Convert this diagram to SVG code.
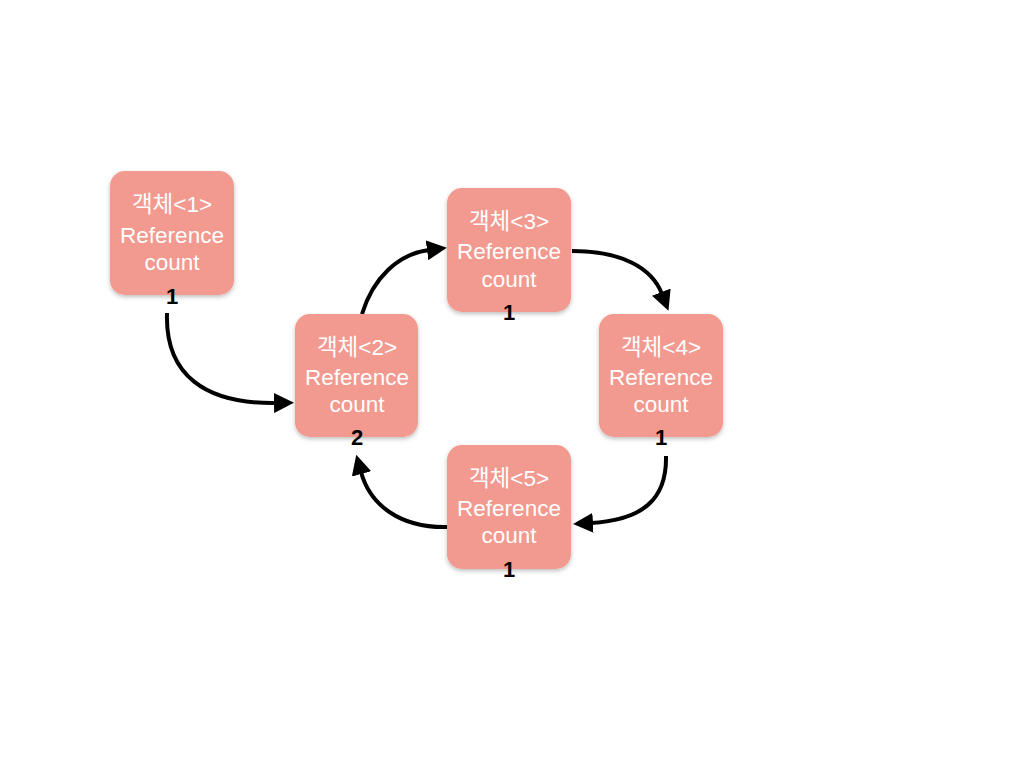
<svg xmlns="http://www.w3.org/2000/svg" width="1024" height="768" viewBox="0 0 1024 768">
<defs>
<style>
.box{fill:#F29A8F;}
.t{font-family:"Liberation Sans","Noto Sans CJK KR",sans-serif;font-size:22.5px;fill:#ffffff;text-anchor:middle;}
.n{font-family:"Liberation Sans",sans-serif;font-size:22px;font-weight:bold;fill:#000;text-anchor:middle;}
.c{fill:none;stroke:#000;stroke-width:4;}
</style>
<filter id="sh" x="-20%" y="-20%" width="140%" height="140%">
<feDropShadow dx="0" dy="2" stdDeviation="2" flood-color="#000" flood-opacity="0.25"/>
</filter>
<marker id="ah" markerUnits="userSpaceOnUse" markerWidth="22" markerHeight="20" viewBox="0 0 22 20" refX="2" refY="10" orient="auto">
<path d="M0,0 L20,10 L0,20 Z" fill="#000"/>
</marker>
</defs>
<rect width="1024" height="768" fill="#fff"/>
<g id="connectors">
<path class="c" d="M167,313 C165,375 205,404 276,403" marker-end="url(#ah)"/>
<path class="c" d="M362,314 C373,278 398,254 429,250" marker-end="url(#ah)"/>
<path class="c" d="M572,251 C622,251 652,268 662,294" marker-end="url(#ah)"/>
<path class="c" d="M666,456 C667,500 642,520 591,523" marker-end="url(#ah)"/>
<path class="c" d="M447,527 C400,528 370,505 361,472" marker-end="url(#ah)"/>
</g>
<g id="node1">
<rect class="box" x="110" y="171" width="124" height="124" rx="15" filter="url(#sh)"/>
<text class="t" x="172" y="212">객체&lt;1&gt;</text>
<text class="t" x="172" y="243">Reference</text>
<text class="t" x="172" y="270">count</text>
<text class="n" x="172" y="304">1</text>
</g>
<g id="node2">
<rect class="box" x="295" y="314" width="123" height="123" rx="15" filter="url(#sh)"/>
<text class="t" x="357" y="355">객체&lt;2&gt;</text>
<text class="t" x="357" y="385">Reference</text>
<text class="t" x="357" y="412">count</text>
<text class="n" x="357" y="445">2</text>
</g>
<g id="node3">
<rect class="box" x="447" y="188" width="124" height="124" rx="15" filter="url(#sh)"/>
<text class="t" x="509" y="229">객체&lt;3&gt;</text>
<text class="t" x="509" y="259">Reference</text>
<text class="t" x="509" y="287">count</text>
<text class="n" x="509" y="320">1</text>
</g>
<g id="node4">
<rect class="box" x="599" y="314" width="124" height="123" rx="15" filter="url(#sh)"/>
<text class="t" x="661" y="355">객체&lt;4&gt;</text>
<text class="t" x="661" y="385">Reference</text>
<text class="t" x="661" y="412">count</text>
<text class="n" x="661" y="445">1</text>
</g>
<g id="node5">
<rect class="box" x="447" y="445" width="124" height="124" rx="15" filter="url(#sh)"/>
<text class="t" x="509" y="486">객체&lt;5&gt;</text>
<text class="t" x="509" y="516">Reference</text>
<text class="t" x="509" y="543">count</text>
<text class="n" x="509" y="577">1</text>
</g>
</svg>
